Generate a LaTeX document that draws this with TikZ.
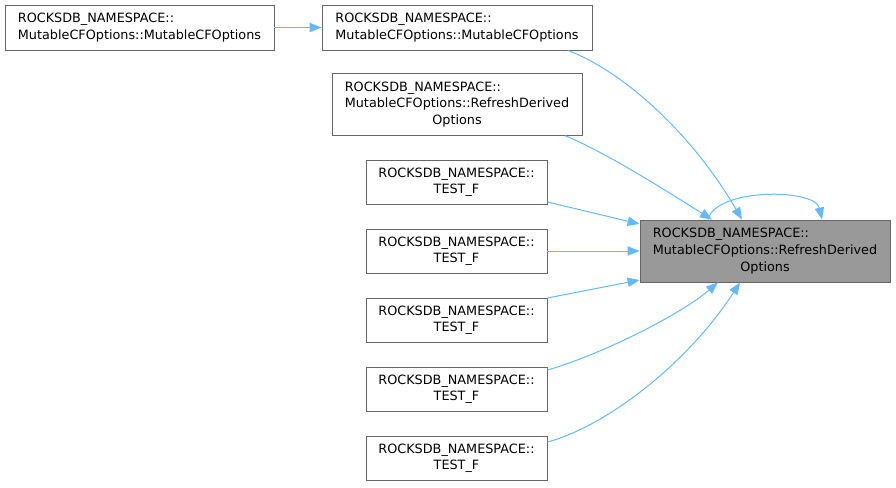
\documentclass[tikz,border=0pt]{standalone}
\usepackage{fontspec}
\setmainfont{DejaVu Sans}
\usetikzlibrary{arrows.meta,calc}
\definecolor{edgeBlue}{HTML}{63B8FF}
\definecolor{boxLine}{HTML}{666666}
\definecolor{boxFill}{HTML}{999999}
\newcommand{\fnlabel}[2]{\begin{tabular}{@{}l@{}}#1\\\multicolumn{1}{@{}c@{}}{#2}\end{tabular}}

\begin{document}
\begin{tikzpicture}[x=0.75pt,y=-0.75pt]
  \tikzset{
    fn/.style={draw=boxLine,line width=0.65pt,fill=white,inner sep=0pt,font=\fontsize{9.6}{12.5}\selectfont,minimum width=135.75pt,minimum height=33pt},
    cur/.style={fn,fill=boxFill,minimum width=187.5pt,minimum height=46.5pt},
    call/.style={draw=edgeBlue,line width=0.75pt,-{Triangle[length=9pt,width=7pt]}}
  }
  \useasboundingbox (0,0) rectangle (896,487);
  \node[fn,minimum width=201.75pt,minimum height=33.75pt] (ctorA) at (139.5,27.5) {\fnlabel{ROCKSDB\_NAMESPACE::}{MutableCFOptions::MutableCFOptions}};
  \node[fn,minimum width=202.5pt,minimum height=33.75pt] (ctorB) at (457,27.5) {\fnlabel{ROCKSDB\_NAMESPACE::}{MutableCFOptions::MutableCFOptions}};
  \node[fn,minimum width=187.5pt,minimum height=46pt] (refresh) at (457,104.5) {\fnlabel{ROCKSDB\_NAMESPACE::\\MutableCFOptions::RefreshDerived}{Options}};
  \foreach \i/\y in {1/182,2/251,3/320,4/389,5/458}
    \node[fn] (test\i) at (456.5,\y) {\fnlabel{ROCKSDB\_NAMESPACE::}{TEST\_F}};
  \node[cur] (main) at (765,251) {\fnlabel{ROCKSDB\_NAMESPACE::\\MutableCFOptions::RefreshDerived}{Options}};

  % callers
  \draw[call] (ctorA) -- (ctorB);
  \draw[call] ($(ctorB.south)+(111,0)$) .. controls (620,70) and (690,130) .. ($(main.north)+(-23,0)$);
  \draw[call] ($(refresh.south)+(108,0)$) .. controls (605,152) and (665,190) .. ($(main.north)+(-53,0)$);
  \draw[call] ($(main.north)+(-57,0)$) .. controls (715,188) and (815,188) .. ($(main.north)+(57,0)$);
  \draw[call] ($(test1.east)+(0,20)$) -- ($(main.west)+(0,-27)$);
  \draw[call] (test2) -- (main);
  \draw[call] ($(test3.east)+(0,-22)$) -- ($(main.west)+(0,29)$);
  \draw[call] ($(test4.east)+(0,-19)$) .. controls (600,355) and (680,315) .. ($(main.south)+(-47,0)$);
  \draw[call] ($(test5.east)+(0,-16)$) .. controls (610,425) and (690,360) .. ($(main.south)+(-25,0)$);
\end{tikzpicture}
\end{document}
